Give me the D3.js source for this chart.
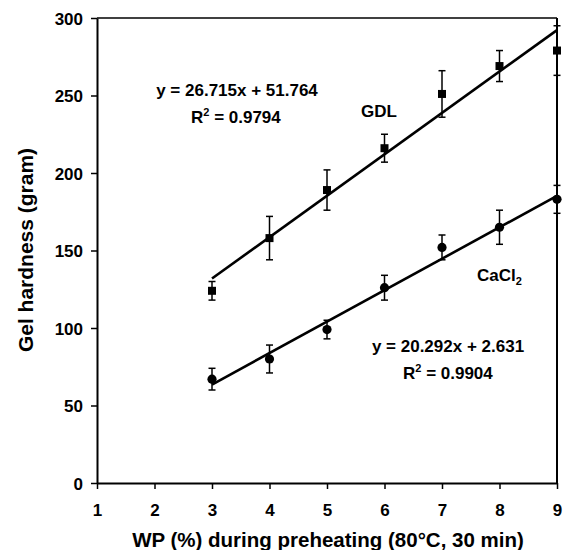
<!DOCTYPE html>
<html><head><meta charset="utf-8">
<script src="https://cdn.jsdelivr.net/npm/d3@7"></script>
<style>body{margin:0;background:#fff}svg{display:block}text{font-family:"Liberation Sans",Arial,sans-serif;font-weight:bold;fill:#000}</style>
</head><body>
<svg id="c" width="564" height="550"></svg>
<script>
const wp = [3,4,5,6,7,8,9];
const gdl = [124,158,189,216,251,269,279];
const gdlErr = [6,14,13,9,15,10,16];
const cacl = [67,80,99,126,152,165,183];
const caclErr = [7,9,6,8,8,11,9];
const xTicks = [1,2,3,4,5,6,7,8,9];
const yTicks = [0,50,100,150,200,250,300];
const fits = [{a:26.715,b:51.764},{a:20.292,b:2.631}];

const svg = d3.select("#c");
const L=97,R=557,T=18,B=483;
const x = d3.scaleLinear().domain([1,9]).range([L,R]);
const y = d3.scaleLinear().domain([0,300]).range([B,T]);

// box
svg.append("line").attr("x1",L).attr("x2",R).attr("y1",T).attr("y2",T).attr("stroke","#000").attr("stroke-width",1.5);
svg.append("line").attr("x1",R).attr("x2",R).attr("y1",T).attr("y2",B).attr("stroke","#000").attr("stroke-width",2);

const ax = svg.append("g").attr("transform",`translate(0,${B})`)
  .call(d3.axisBottom(x).tickValues(xTicks).tickSize(6).tickSizeOuter(0).tickPadding(15));
const ay = svg.append("g").attr("transform",`translate(${L},0)`)
  .call(d3.axisLeft(y).tickValues(yTicks).tickSize(6).tickSizeOuter(0).tickPadding(8));
[ax,ay].forEach(g=>{
  g.select(".domain").attr("stroke","#000").attr("stroke-width",2);
  g.selectAll(".tick line").attr("stroke","#000").attr("stroke-width",1.5);
  g.selectAll(".tick text").style("font-size","17px").style("font-family","'Liberation Sans',Arial,sans-serif").style("font-weight","bold").attr("fill","#000");
});
ay.selectAll(".tick text").attr("dy","0.36em");

// fit lines
fits.forEach(f=>{
  svg.append("line")
    .attr("x1",x(3)).attr("y1",y(f.a*3+f.b))
    .attr("x2",x(9)).attr("y2",y(f.a*9+f.b))
    .attr("stroke","#000").attr("stroke-width",2.6);
});

function errBars(vals, errs){
  const g = svg.append("g").attr("stroke","#000").attr("stroke-width",1.5);
  wp.forEach((w,i)=>{
    const cx=x(w), hi=y(vals[i]+errs[i]), lo=y(vals[i]-errs[i]);
    g.append("line").attr("x1",cx).attr("x2",cx).attr("y1",hi).attr("y2",lo);
    g.append("line").attr("x1",cx-3.5).attr("x2",cx+3.5).attr("y1",hi).attr("y2",hi);
    g.append("line").attr("x1",cx-3.5).attr("x2",cx+3.5).attr("y1",lo).attr("y2",lo);
  });
}
errBars(gdl,gdlErr);
errBars(cacl,caclErr);

svg.append("g").selectAll("rect").data(wp).join("rect")
  .attr("x",(d)=>x(d)-4).attr("y",(d,i)=>y(gdl[i])-4).attr("width",8).attr("height",8).attr("fill","#000");
svg.append("g").selectAll("circle").data(wp).join("circle")
  .attr("cx",d=>x(d)).attr("cy",(d,i)=>y(cacl[i])).attr("r",4.6).attr("fill","#000");

function txt(t,xx,yy,size,anchor){
  return svg.append("text").attr("x",xx).attr("y",yy).attr("text-anchor",anchor||"middle").style("font-size",size+"px").text(t);
}
txt("y = 26.715x + 51.764",237,96,17);
const r1 = txt("R",191,123,17,"start");
r1.append("tspan").attr("dy",-7).style("font-size","11px").text("2");
r1.append("tspan").attr("dy",7).text(" = 0.9794");
txt("GDL",379,117,17);
const ca = txt("CaCl",477,281,17,"start");
ca.append("tspan").attr("dy",4).style("font-size","11px").text("2");
txt("y = 20.292x + 2.631",448,352,17);
const r2 = txt("R",403,379,17,"start");
r2.append("tspan").attr("dy",-7).style("font-size","11px").text("2");
r2.append("tspan").attr("dy",7).text(" = 0.9904");

txt("WP (%) during preheating (80°C, 30 min)",328,547,20.5);
svg.append("text").attr("transform","translate(33,250) rotate(-90)").attr("text-anchor","middle").style("font-size","21px").text("Gel hardness (gram)");
</script>
</body></html>
